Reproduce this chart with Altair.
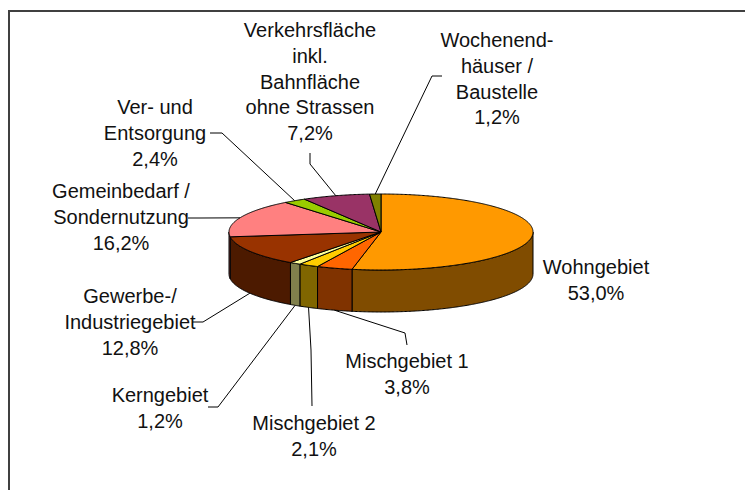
import numpy as np
import pandas as pd
import altair as alt

# ---------------- data ----------------
categories = ["Wohngebiet", "Mischgebiet 1", "Mischgebiet 2", "Kerngebiet",
              "Gewerbe-/Industriegebiet", "Gemeinbedarf / Sondernutzung",
              "Ver- und Entsorgung", "Verkehrsfläche inkl. Bahnfläche ohne Strassen",
              "Wochenendhäuser / Baustelle"]
label_lines = [["Wohngebiet"], ["Mischgebiet 1"], ["Mischgebiet 2"], ["Kerngebiet"],
               ["Gewerbe-/", "Industriegebiet"], ["Gemeinbedarf /", "Sondernutzung"],
               ["Ver- und", "Entsorgung"],
               ["Verkehrsfläche", "inkl.", "Bahnfläche", "ohne Strassen"],
               ["Wochenend-", "häuser /", "Baustelle"]]
shares = [53.0, 3.8, 2.1, 1.2, 12.8, 16.2, 2.4, 7.2, 1.2]

# ---------------- style / layout ----------------
top_colors = ["#FF9900", "#FF6600", "#FFCC00", "#FFFF99", "#993300",
              "#FF8080", "#99CC00", "#993366", "#808000"]
side_colors = ["#804C00", "#803300", "#806600", "#80804C", "#4C1A00",
               "#804040", "#4C6600", "#4C1A33", "#404000"]
CX, CY, RX, RY, DEPTH = 381.0, 232.0, 152.0, 38.0, 42.0
W, H = 745, 490
FONT = "Liberation Sans"
FS = 20
LH = 25.8

# label first-line centre (x, y) and leader elbow / end points
label_pos = {
    "Wohngebiet": (596, 268),
    "Mischgebiet 1": (407, 362),
    "Mischgebiet 2": (314, 424),
    "Kerngebiet": (160, 396),
    "Gewerbe-/Industriegebiet": (130, 297),
    "Gemeinbedarf / Sondernutzung": (121, 192),
    "Ver- und Entsorgung": (155, 108),
    "Verkehrsfläche inkl. Bahnfläche ohne Strassen": (310, 31),
    "Wochenendhäuser / Baustelle": (497, 41),
}
leader = {
    "Mischgebiet 1": [(405, 333), (407, 345)],
    "Mischgebiet 2": [(311, 350), (312, 406)],
    "Kerngebiet": [(218, 407), (208, 407)],
    "Gewerbe-/Industriegebiet": [(203, 322), (192, 322)],
    "Gemeinbedarf / Sondernutzung": [(200, 218), (188, 218)],
    "Ver- und Entsorgung": [(222, 133), (210, 133)],
    "Verkehrsfläche inkl. Bahnfläche ohne Strassen": [(310, 164), (310, 153)],
    "Wochenendhäuser / Baustelle": [(432, 76), (442, 76)],
}

total = sum(shares)
cum = np.concatenate([[0.0], np.cumsum(shares)]) / total * 360.0


def pt(theta_deg, down=0.0):
    t = np.radians(theta_deg)
    return CX + RX * np.sin(t), CY - RY * np.cos(t) + down


def arc(a, b):
    n = max(2, int(np.ceil((b - a) / 0.5)) + 1)
    return np.linspace(a, b, n)


tops, sides = [], []
for k, name in enumerate(categories):
    a, b = cum[k], cum[k + 1]
    pts = [(CX, CY)] + [pt(t) for t in arc(a, b)] + [(CX, CY)]
    for i, (x, y) in enumerate(pts):
        tops.append(dict(pid=f"t{k}", i=i, x=x, y=y, fill=top_colors[k]))
    lo, hi = max(a, 90.0), min(b, 270.0)
    if hi > lo:
        th = arc(lo, hi)
        spts = [pt(t) for t in th] + [pt(t, DEPTH) for t in th[::-1]]
        spts.append(spts[0])
        for i, (x, y) in enumerate(spts):
            sides.append(dict(pid=f"s{k}", i=i, x=x, y=y, fill=side_colors[k]))

lines, labels = [], []
for k, name in enumerate(categories):
    a, b = cum[k], cum[k + 1]
    mid = (a + b) / 2
    lx, ly = label_pos[name]
    txt = "\n".join(label_lines[k] + [f"{shares[k]:.1f}".replace(".", ",") + "%"])
    labels.append(dict(x=lx, y=ly, text=txt))
    if name in leader:
        down = DEPTH if 90 < mid < 270 else 0.0
        p0 = pt(mid, down)
        seq = [p0] + leader[name]
        for i, (x, y) in enumerate(seq):
            lines.append(dict(pid=f"l{k}", i=i, x=x, y=y))

xs = alt.X("x:Q", scale=alt.Scale(domain=[0, W], nice=False, zero=False), axis=None)
ys = alt.Y("y:Q", scale=alt.Scale(domain=[0, H], nice=False, zero=False, reverse=True), axis=None)

side_layer = alt.Chart(pd.DataFrame(sides)).mark_line(
    filled=True, stroke="black", strokeWidth=1, strokeJoin="round"
).encode(x=xs, y=ys, detail="pid:N", order="i:Q", fill=alt.Fill("fill:N", scale=None))

top_layer = alt.Chart(pd.DataFrame(tops)).mark_line(
    filled=True, stroke="black", strokeWidth=1, strokeJoin="round"
).encode(x=xs, y=ys, detail="pid:N", order="i:Q", fill=alt.Fill("fill:N", scale=None))

line_layer = alt.Chart(pd.DataFrame(lines)).mark_line(
    color="black", strokeWidth=1
).encode(x=xs, y=ys, detail="pid:N", order="i:Q")

text_layer = alt.Chart(pd.DataFrame(labels)).mark_text(
    font=FONT, fontSize=FS, lineBreak="\n", lineHeight=LH, align="center",
    baseline="middle", color="#111111"
).encode(x=xs, y=ys, text="text:N")

frame_v = alt.Chart(pd.DataFrame({"x": [0]})).mark_rule(
    color="#404040", strokeWidth=2
).encode(x=alt.value(9), y=alt.value(10), y2=alt.value(H))

frame_h = alt.Chart(pd.DataFrame({"x": [0]})).mark_rule(
    color="#404040", strokeWidth=2
).encode(x=alt.value(8), x2=alt.value(W), y=alt.value(11))

chart = alt.layer(side_layer, top_layer, line_layer, text_layer, frame_v, frame_h).properties(
    width=W, height=H, autosize=alt.AutoSizeParams(type="none"), padding=0,
    background="white"
).configure_view(stroke=None)

chart.save("out.html", embed_options={"renderer": "svg", "actions": False})
